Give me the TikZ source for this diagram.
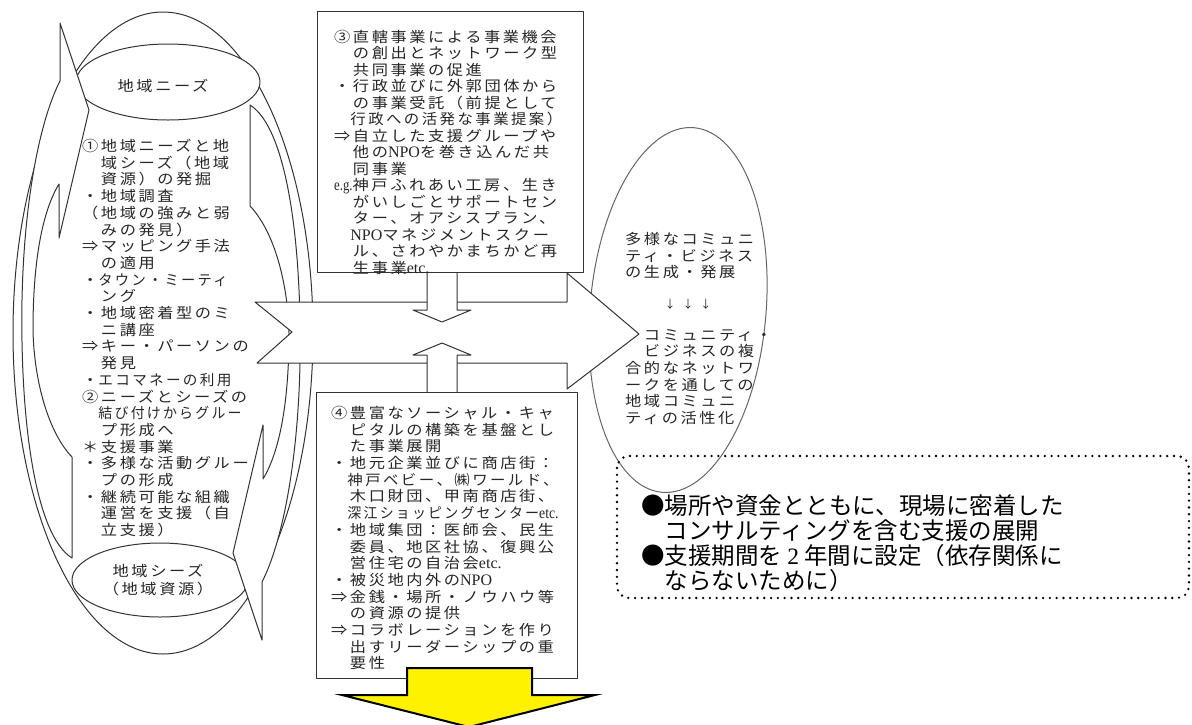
\documentclass[tikz,border=0pt]{standalone}
\usepackage{fontspec}
\usepackage{graphicx}
\newfontfamily\jp[FakeStretch=1.12, LetterSpace=17.6]{Noto Sans CJK JP}
\newfontfamily\jpn{Noto Sans CJK JP}
\newfontfamily\latf{Liberation Serif}
\newcommand\latn[1]{{\latf\fontsize{16}{16.8}\selectfont #1}}
\newcommand\sq[2]{\scalebox{#1}[1]{#2}}
\tikzset{
  ln/.style={draw=black!80, line width=1pt, line join=round},
  wfill/.style={ln, fill=white},
  txt/.style={inner sep=0pt, anchor=north west, align=left, text=black!85,
    font={\jp\fontsize{14.5}{16.7}\selectfont}},
  ctxt/.style={inner sep=0pt, align=center, text=black!85,
    font={\jp\fontsize{14.5}{18}\selectfont}},
}
\begin{document}
\begin{tikzpicture}[x=1pt,y=-1pt]
\useasboundingbox (0,0) rectangle (1192,724);
% big ellipse and the two small ellipses
\draw[ln] (163,333) ellipse [x radius=150, y radius=321];
\draw[wfill] (168,82) ellipse [x radius=92, y radius=38];
\draw[wfill] (160,580) ellipse [x radius=88, y radius=37];
% right ellipse
\draw[fill=white, draw=black!60, line width=1pt, rotate around={-5:(678,310)}] (678,310) ellipse [x radius=88, y radius=183];
% the two curved arrows (second one is the first turned by 180 degrees)
\foreach \a in {0,180}{
  \draw[wfill, rotate around={\a:(161,331.5)}]
    (60,23) -- (60,81) .. controls (40,120) and (24,200) .. (22,300)
    .. controls (20,420) and (35,535) .. (72,558) -- (72,457)
    .. controls (48,432) and (34,380) .. (33,330)
    .. controls (33,262) and (42,212) .. (59,184) -- (59,238) -- (89,110) -- cycle;
}
% central notched arrow
\draw[wfill] (255,302) -- (567,302) -- (567,273) -- (639,334) -- (567,389)
  -- (567,363) -- (257,363) -- (292,332) -- cycle;
% small arrows from the boxes
\draw[wfill] (427,262) -- (427,310) -- (413,310) -- (442,322) -- (471,310)
  -- (457,310) -- (457,262) -- cycle;
\draw[wfill] (427,402) -- (427,355) -- (413,355) -- (442,343) -- (471,355)
  -- (457,355) -- (457,402) -- cycle;
% boxes
\draw[wfill] (317,11) rectangle (583,272);
\draw[wfill] (316,392) rectangle (577,678);
% yellow arrow
\draw[fill=yellow, draw=black, line width=2pt, line join=miter]
  (407,668) -- (532,668) -- (532,695) -- (595,695) -- (469,727) -- (342,695)
  -- (407,695) -- cycle;
% dotted box
\draw[line width=2.6pt, dash pattern=on 0pt off 6.8pt, line cap=round,
  rounded corners=12pt] (617,456) rectangle (1189,598);

% texts
\node[ctxt] (needs) at (163,86) {地域ニーズ};
\node[ctxt] (seeds) at (158,580) {地域シーズ\\（地域資源）};
\node[txt] (col1) at (82,139) {①地域ニーズと地\\
　域シーズ（地域\\
　資源）の発掘\\
・地域調査\\
（地域の強みと弱\\
　みの発見）\\
⇒マッピング手法\\
　の適用\\
・\sq{0.88}{タウン・ミーティ}\\
　ング\\
・地域密着型のミ\\
　ニ講座\\
⇒キー・パーソンの\\
　発見\\
・\sq{0.9}{エコマネーの利用}\\
②ニーズとシーズの\\
　\sq{0.86}{結び付けからグルー}\\
　プ形成へ\\
＊支援事業\\
・多様な活動グルー\\
　プの形成\\
・継続可能な組織\\
　運営を支援（自\\
　立支援）};
\node[txt, font={\jp\fontsize{14.5}{16.5}\selectfont}] (col3) at (334,30) {③直轄事業による事業機会\\
　の創出とネットワーク型\\
　共同事業の促進\\
・行政並びに外郭団体から\\
　の事業受託（前提として\\
　\sq{0.95}{行政への活発な事業提案）}\\
⇒自立した支援グループや\\
　他の\latn{NPO}を巻き込んだ共\\
　同事業\\
\sq{0.8}{\latn{e.g.}}神戸ふれあい工房、生き\\
　がいしごとサポートセン\\
　ター、オアシスプラン、\\
　\latn{NPO}マネジメントスクー\\
　ル、さわやかまちかど再\\
　生事業\latn{etc.}};
\node[txt] (col4) at (331,406) {④豊富なソーシャル・キャ\\
　ピタルの構築を基盤とし\\
　た事業展開\\
・地元企業並びに商店街：\\
　\sq{0.95}{神戸ベビー、㈱ワールド、}\\
　木口財団、甲南商店街、\\
　\sq{0.86}{深江ショッピングセンター\latn{etc.}}\\
・地域集団：医師会、民生\\
　委員、地区社協、復興公\\
　営住宅の自治会\latn{etc.}\\
・被災地内外の\latn{NPO}\\
⇒金銭・場所・ノウハウ等\\
　の資源の提供\\
⇒コラボレーションを作り\\
　出すリーダーシップの重\\
　要性};
\node[txt] (r1) at (625,232) {多様なコミュニ\\ティ・ビジネス\\の生成・発展};
\node[inner sep=0pt, text=black!85, font={\jpn\fontsize{11}{12}\selectfont}] (r2) at (688,304) {↓\hspace{7pt}↓\hspace{7pt}↓};
\node[txt] (r3) at (625,329) {　コミュニティ・\\　ビジネスの複\\合的なネットワ\\ークを通しての\\地域コミュニ\\ティの活性化};
\node[txt, text=black, font={\jpn\fontsize{23.5}{25}\selectfont}] (dots) at (641,494)
  {●場所や資金とともに、現場に密着した\\
   　コンサルティングを含む支援の展開\\
   ●支援期間を {\latf 2} 年間に設定（依存関係に\\
   　ならないために）};
\end{tikzpicture}
\end{document}
